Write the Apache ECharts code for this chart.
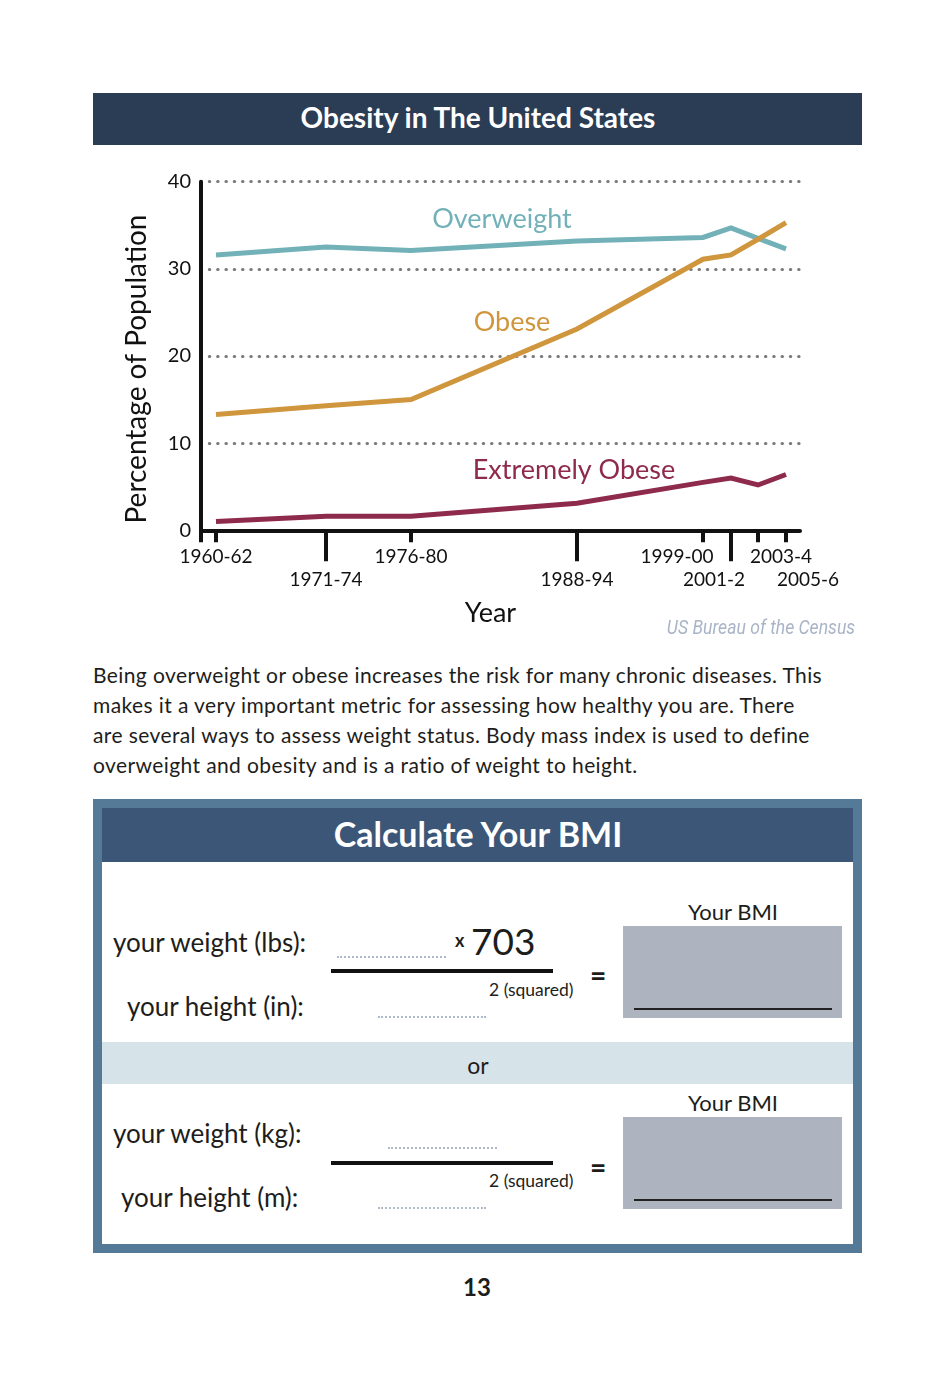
<!DOCTYPE html>
<html>
<head>
<meta charset="utf-8">
<title>Obesity in The United States</title>
<script src="https://cdn.jsdelivr.net/npm/echarts@6.0.0/dist/echarts.min.js"></script>
<style>
body{margin:0;background:#fff;font-family:Lato,"Open Sans",sans-serif;color:#1d1d1b;}
#page{position:relative;width:937px;height:1387px;overflow:hidden;}
.abs{position:absolute;}
.t{position:absolute;white-space:nowrap;line-height:1;transform:translateY(-50%);}
.tc{position:absolute;white-space:nowrap;line-height:1;transform:translate(-50%,-50%);}
.dots{position:absolute;height:0;border-top:2px dotted #aeb9ca;}
.frac{position:absolute;height:4px;background:#111;}
.bmi{position:absolute;width:219px;height:92px;background:#adb4bf;}
.rule{position:absolute;width:198px;height:2px;background:#222;}
.lbl{font-size:26px;}
.sq{font-size:17.5px;}
.eq{font-size:28px;font-weight:bold;}
</style>
</head>
<body>
<div id="page">
  <div class="abs" style="left:93px;top:93px;width:769px;height:52px;background:#2b3c55;"></div>
  <div class="tc" style="left:478px;top:117px;color:#fff;font-weight:bold;font-size:28px;">Obesity in The United States</div>

  <div id="chartContainer" class="abs" style="left:0;top:150px;width:937px;height:500px;"></div>
  <div class="tc" style="left:761px;top:627px;color:#a9b4c7;font-family:Roboto,sans-serif;font-style:italic;font-size:20px;transform:translate(-50%,-50%) scaleX(0.88);">US Bureau of the Census</div>

  <div class="abs" style="left:93px;top:660px;font-size:21px;line-height:30px;letter-spacing:0.4px;white-space:nowrap;">
    Being overweight or obese increases the risk for many chronic diseases. This<br>
    makes it a very important metric for assessing how healthy you are. There<br>
    are several ways to assess weight status. Body mass index is used to define<br>
    overweight and obesity and is a ratio of weight to height.
  </div>

  <!-- BMI box -->
  <div class="abs" style="left:93px;top:799px;width:769px;height:454px;background:#557a98;"></div>
  <div class="abs" style="left:102px;top:808px;width:751px;height:54px;background:#3b5677;"></div>
  <div class="abs" style="left:102px;top:862px;width:751px;height:180px;background:#fff;"></div>
  <div class="abs" style="left:102px;top:1042px;width:751px;height:42px;background:#d6e3e9;"></div>
  <div class="abs" style="left:102px;top:1084px;width:751px;height:160px;background:#fff;"></div>
  <div class="tc" style="left:478px;top:834px;color:#fff;font-weight:bold;font-size:34px;">Calculate Your BMI</div>

  <div class="tc" style="left:733px;top:912px;font-size:22px;">Your BMI</div>
  <div class="t lbl" style="left:113px;top:942px;">your weight (lbs):</div>
  <div class="dots" style="left:337px;top:956px;width:109px;"></div>
  <div class="t" style="left:455px;top:940px;font-size:18px;font-weight:bold;">x</div>
  <div class="t" style="left:471px;top:940px;font-size:37px;">703</div>
  <div class="frac" style="left:331px;top:969px;width:222px;"></div>
  <div class="t sq" style="left:489px;top:990px;">2 (squared)</div>
  <div class="t lbl" style="left:127px;top:1006px;">your height (in):</div>
  <div class="dots" style="left:378px;top:1016px;width:108px;"></div>
  <div class="t eq" style="left:590px;top:975px;">=</div>
  <div class="bmi" style="left:623px;top:926px;"></div>
  <div class="rule" style="left:634px;top:1008px;"></div>

  <div class="tc" style="left:478px;top:1065px;font-size:23px;">or</div>

  <div class="tc" style="left:733px;top:1103px;font-size:22px;">Your BMI</div>
  <div class="t lbl" style="left:113px;top:1133px;">your weight (kg):</div>
  <div class="dots" style="left:388px;top:1147px;width:109px;"></div>
  <div class="frac" style="left:331px;top:1161px;width:222px;"></div>
  <div class="t sq" style="left:489px;top:1181px;">2 (squared)</div>
  <div class="t lbl" style="left:121px;top:1197px;">your height (m):</div>
  <div class="dots" style="left:378px;top:1207px;width:108px;"></div>
  <div class="t eq" style="left:590px;top:1167px;">=</div>
  <div class="bmi" style="left:623px;top:1117px;"></div>
  <div class="rule" style="left:634px;top:1199px;"></div>

  <div class="tc" style="left:477px;top:1287px;font-size:24px;font-weight:bold;">13</div>
</div>

<script>
// survey periods and where they sit along the axis
var periodLabels = ['1960-62', '1971-74', '1976-80', '1988-94', '1999-00', '2001-2', '2003-4', '2005-6'];
var periodPos = [0, 11, 19.5, 36.1, 48.7, 51.5, 54.2, 57];
var overweight = [31.6, 32.5, 32.1, 33.2, 33.6, 34.7, 33.5, 32.3];
var obese = [13.3, 14.3, 15.0, 23.1, 31.1, 31.6, 33.4, 35.3];
var extremelyObese = [1.0, 1.6, 1.6, 3.1, 5.5, 6.0, 5.2, 6.4];
var yTicks = [0, 10, 20, 30, 40];
var seriesNames = ['Overweight', 'Obese', 'Extremely Obese'];

var xMin = -1.5, xMax = 58.4;
var ink = '#111';
var nudge = {4: -26, 5: -17, 6: 23, 7: 22};

function pairs(vals) {
    return periodPos.map(function (x, i) { return [x, vals[i]]; });
}
function pick(arr, odd) {
    return arr.filter(function (v, i) { return (i % 2 === 1) === odd; });
}

var rich = {};
periodLabels.forEach(function (l, i) {
    var d = nudge[i] || 0;
    rich['p' + i] = {
        fontFamily: 'Lato', fontSize: 19, color: ink,
        padding: d < 0 ? [0, -2 * d, 0, 0] : [0, 0, 0, 2 * d]
    };
});
function periodLabel(v) {
    var i = periodPos.indexOf(v);
    return i < 0 ? '' : '{p' + i + '|' + periodLabels[i] + '}';
}

var myChart = echarts.init(document.getElementById('chartContainer'));
var option = {
    animation: false,
    grid: {left: 201, right: 137, top: 31.7, bottom: 119.7},
    xAxis: [{
        type: 'value', min: xMin, max: xMax,
        name: 'Year', nameLocation: 'middle', nameGap: 69,
        nameTextStyle: {fontFamily: 'Lato', fontSize: 27, color: ink, padding: [0, 20, 0, 0]},
        axisLine: {onZero: false, lineStyle: {color: ink, width: 4}},
        axisTick: {
            customValues: [xMin].concat(pick(periodPos, false), [periodPos[7]]),
            length: 12, lineStyle: {color: ink, width: 4}
        },
        axisLabel: {customValues: pick(periodPos, false), margin: 17, formatter: periodLabel, rich: rich},
        splitLine: {show: false}
    }, {
        type: 'value', min: xMin, max: xMax, position: 'bottom',
        axisLine: {show: false, onZero: false},
        axisTick: {
            customValues: pick(periodPos, true).slice(0, 3),
            length: 31, lineStyle: {color: ink, width: 4}
        },
        axisLabel: {customValues: pick(periodPos, true), margin: 40, formatter: periodLabel, rich: rich},
        splitLine: {show: false}
    }],
    yAxis: {
        type: 'value', min: yTicks[0], max: yTicks[yTicks.length - 1], interval: 10,
        name: 'Percentage of Population', nameLocation: 'middle', nameGap: 50,
        nameTextStyle: {fontFamily: 'Lato', fontSize: 28, color: ink, padding: [0, 26, 0, 0]},
        axisLine: {show: true, onZero: false, lineStyle: {color: ink, width: 4}},
        axisTick: {show: false},
        axisLabel: {fontFamily: 'Lato', fontSize: 20, color: ink, margin: 10},
        splitLine: {lineStyle: {color: '#7b7b7b', width: 3, type: [0.5, 7.8], cap: 'round'}}
    },
    series: [
        {name: seriesNames[0], type: 'line', data: pairs(overweight), color: '#72b1b8'},
        {name: seriesNames[1], type: 'line', data: pairs(obese), color: '#cf963d'},
        {name: seriesNames[2], type: 'line', data: pairs(extremelyObese), color: '#8e2a4b'}
    ].map(function (s) {
        s.symbol = 'none';
        s.lineStyle = {width: 5, join: 'miter'};
        s.z = 3;
        return s;
    }),
    graphic: [
        {type: 'text', x: 502, y: 69, style: {text: seriesNames[0], fill: '#72b1b8', font: '27px Lato', align: 'center', verticalAlign: 'middle'}},
        {type: 'text', x: 512, y: 172, style: {text: seriesNames[1], fill: '#cf963d', font: '27px Lato', align: 'center', verticalAlign: 'middle'}},
        {type: 'text', x: 574, y: 320, style: {text: seriesNames[2], fill: '#8e2a4b', font: '27px Lato', align: 'center', verticalAlign: 'middle'}}
    ]
};
myChart.setOption(option);
</script>
</body>
</html>
